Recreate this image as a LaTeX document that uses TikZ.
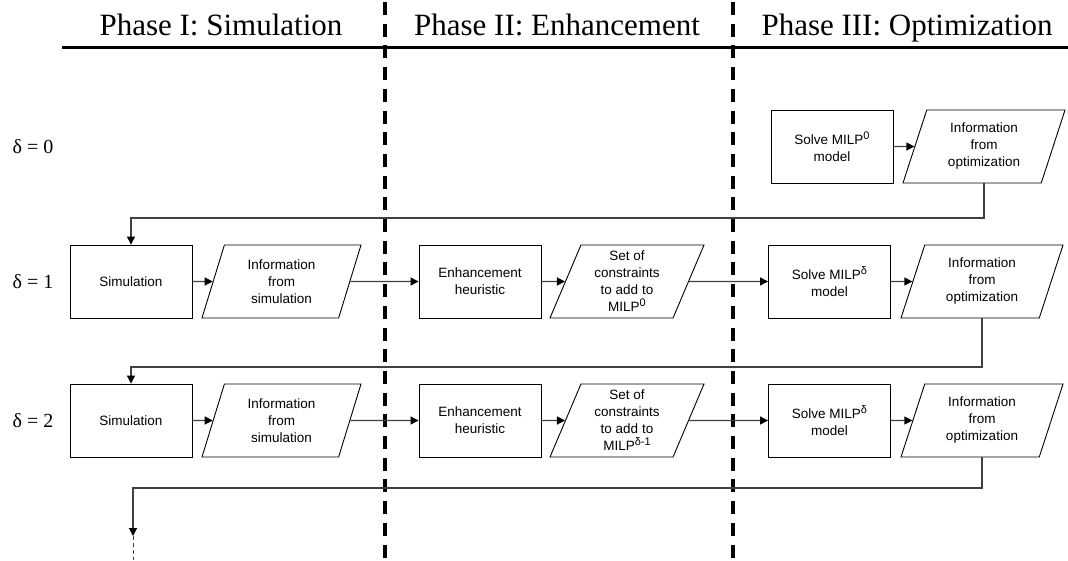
\documentclass[tikz,border=0pt]{standalone}
\usepackage{fontspec}
\setmainfont{Liberation Sans}
\newfontfamily\serifx{Liberation Serif}
\usetikzlibrary{shapes.geometric,arrows.meta}
\newcommand{\supx}[1]{\raisebox{5.5pt}{\fontsize{11}{11}\selectfont #1}}
\begin{document}
\begin{tikzpicture}[x=1pt,y=-1pt,
  procbox/.style={draw=black,line width=0.9pt,minimum width=122pt,minimum height=73pt,inner sep=0pt,align=center,font=\fontsize{13.5}{17}\selectfont},
  databox/.style={draw=black,line width=0.9pt,shape=trapezium,trapezium left angle=63,trapezium right angle=117,trapezium stretches body,minimum width=159pt,minimum height=73pt,inner sep=0pt,align=center,font=\fontsize{13.5}{17}\selectfont},
  conn/.style={draw=black!75,line width=1.2pt,-{Triangle[length=8pt,width=8pt,color=black,fill=black]}},
  phase/.style={font=\serifx\fontsize{31}{36}\selectfont,inner sep=0pt,anchor=base},
  rowlabel/.style={font=\serifx\fontsize{20}{24}\selectfont,inner sep=0pt},
  divider/.style={line width=3.2pt,dash pattern=on 13pt off 8.7pt}
]
\useasboundingbox (0,0) rectangle (1068,560);

% headings
\node[phase] (ph1) at (221,35) {Phase I: Simulation};
\node[phase] (ph2) at (557,35) {Phase II: Enhancement};
\node[phase] (ph3) at (907,35) {Phase III: Optimization};
\coordinate (hl) at (62,47);
\coordinate (hr) at (1068,47);
\draw[line width=3pt] (hl) -- (hr);

% dividers
\coordinate (d1t) at (385,2);
\coordinate (d1b) at (385,562);
\coordinate (d2t) at (733,2);
\coordinate (d2b) at (733,562);
\draw[divider] (d1t) -- (d1b);
\draw[divider] (d2t) -- (d2b);

% row labels
\node[rowlabel] (r0) at (33,146.5) {δ = 0};
\node[rowlabel] (r1) at (33,281.5) {δ = 1};
\node[rowlabel] (r2) at (33,420.5) {δ = 2};

% row 0
\node[procbox] (solve0) at (832,146.5) {Solve MILP\supx{0}\\model};
\node[databox,minimum width=162pt] (opt0) at (984,146.5) {Information\\from\\optimization};

% row 1
\node[procbox] (sim1) at (131,281.5) {Simulation};
\node[databox,minimum width=159pt] (info1) at (281.5,281.5) {Information\\from\\simulation};
\node[procbox] (enh1) at (480,281.5) {Enhancement\\heuristic};
\node[databox,minimum width=154pt] (cons1) at (627,281.5) {Set of\\constraints\\to add to\\MILP\supx{0}};
\node[procbox] (solve1) at (829.5,281.5) {Solve MILP\supx{δ}\\model};
\node[databox,minimum width=162pt] (opt1) at (982,281.5) {Information\\from\\optimization};

% row 2
\node[procbox] (sim2) at (131,420.5) {Simulation};
\node[databox,minimum width=159pt] (info2) at (281.5,420.5) {Information\\from\\simulation};
\node[procbox] (enh2) at (480,420.5) {Enhancement\\heuristic};
\node[databox,minimum width=154pt] (cons2) at (627,420.5) {Set of\\constraints\\to add to\\MILP\supx{δ-1}};
\node[procbox] (solve2) at (829.5,420.5) {Solve MILP\supx{δ}\\model};
\node[databox,minimum width=162pt] (opt2) at (982,420.5) {Information\\from\\optimization};

% connectors
\draw[conn] (solve0.east) -- (opt0.west);
\coordinate (fb0) at (131,218);
\draw[conn] (opt0.south) |- (fb0) -- (sim1.north);

\draw[conn] (sim1.east) -- (info1.west);
\draw[conn] (info1.east) -- (enh1.west);
\draw[conn] (enh1.east) -- (cons1.west);
\draw[conn] (cons1.east) -- (solve1.west);
\draw[conn] (solve1.east) -- (opt1.west);
\coordinate (fb1) at (131,367);
\draw[conn] (opt1.south) |- (fb1) -- (sim2.north);

\draw[conn] (sim2.east) -- (info2.west);
\draw[conn] (info2.east) -- (enh2.west);
\draw[conn] (enh2.east) -- (cons2.west);
\draw[conn] (cons2.east) -- (solve2.west);
\draw[conn] (solve2.east) -- (opt2.west);
\coordinate (fb2) at (133,488);
\coordinate (fbend) at (133,536);
\coordinate (fbtail) at (133,560);
\draw[conn] (opt2.south) |- (fb2) -- (fbend);
\draw[draw=black!75,line width=1pt,dash pattern=on 4pt off 3pt] (fbend) -- (fbtail);
\end{tikzpicture}
\end{document}
